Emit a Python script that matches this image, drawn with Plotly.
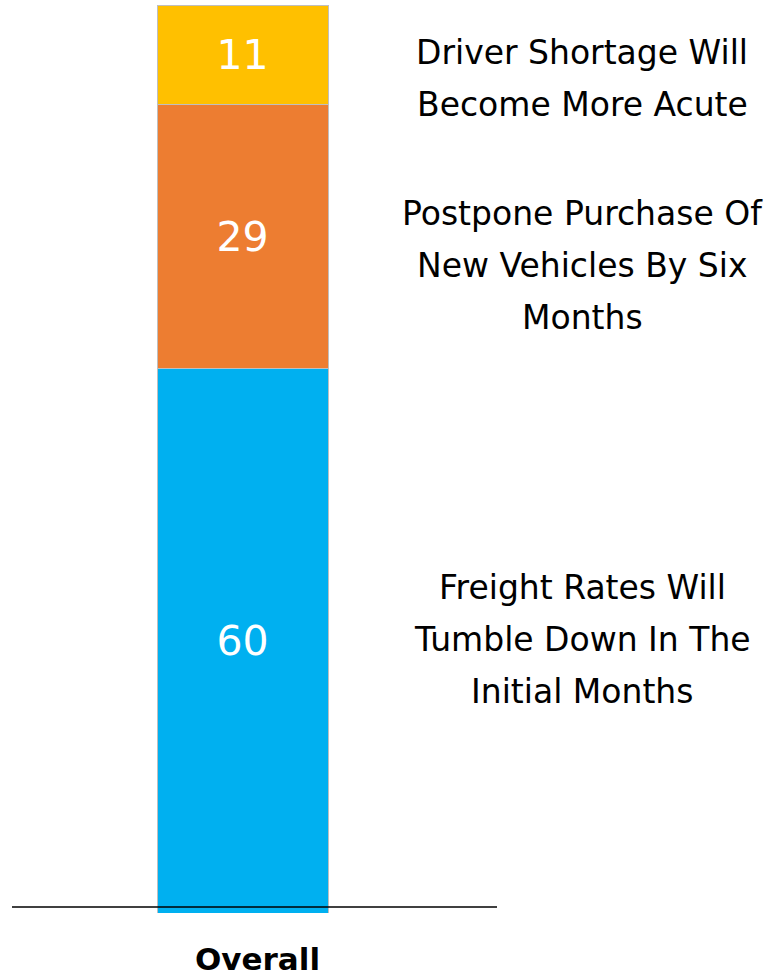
import plotly.graph_objects as go

category = ["Overall"]
series_names = ["Freight Rates Will Tumble Down In The Initial Months",
                "Postpone Purchase Of New Vehicles By Six Months",
                "Driver Shortage Will Become More Acute"]
series_values = [60, 29, 11]
series_colors = ["#00B0F0", "#ED7D31", "#FFC000"]
label_lines = [["Freight Rates Will", "Tumble Down In The", "Initial Months"],
               ["Postpone Purchase Of", "New Vehicles By Six", "Months"],
               ["Driver Shortage Will", "Become More Acute"]]
label_centers_px = [639, 266, 78]

W, H = 781, 976
ml, mr, mt, mb = 12, 284, 5, 63
pw = W - ml - mr
ph = H - mt - mb
FONT = "DejaVu Sans"

fig = go.Figure()
for name, val, col in zip(series_names, series_values, series_colors):
    fig.add_trace(go.Bar(
        x=[0], y=[val], name=name, width=171 / pw,
        marker=dict(color=col, line=dict(color="#BFBFBF", width=1)),
        text=[str(val)], textposition="inside", insidetextanchor="middle",
        textfont=dict(color="white", size=41, family=FONT),
        hoverinfo="skip",
    ))

annotations = []
line_gap = 52
for lines, cpx in zip(label_lines, label_centers_px):
    n = len(lines)
    for i, ln in enumerate(lines):
        ypx = cpx + (i - (n - 1) / 2) * line_gap
        annotations.append(dict(
            text=ln, xref="paper", yref="paper",
            x=(582 - ml) / pw, y=1 - (ypx - mt) / ph,
            xanchor="center", yanchor="middle", showarrow=False,
            font=dict(size=33, color="#000000", family=FONT)))
annotations.append(dict(
    text="<b>" + category[0] + "</b>", xref="paper", yref="paper",
    x=(257 - ml) / pw, y=1 - (959 - mt) / ph,
    xanchor="center", yanchor="middle", showarrow=False,
    font=dict(size=31, color="#000000", family=FONT)))

center = (242.5 - ml) / pw
fig.update_layout(
    width=W, height=H, barmode="stack",
    margin=dict(l=ml, r=mr, t=mt, b=mb, pad=0),
    paper_bgcolor="white", plot_bgcolor="white",
    showlegend=False, annotations=annotations,
    xaxis=dict(range=[-center, 1 - center], visible=False, fixedrange=True),
    yaxis=dict(range=[0, 100], visible=False, fixedrange=True),
    shapes=[dict(type="line", xref="paper", yref="paper",
                 x0=0, x1=1, y0=6 / ph, y1=6 / ph,
                 line=dict(color="#000000", width=1.5))],
    uniformtext=dict(minsize=41, mode="show"),
)

fig.write_html("out.html", config={"displayModeBar": False},
               post_script="document.body.style.margin='0';")
